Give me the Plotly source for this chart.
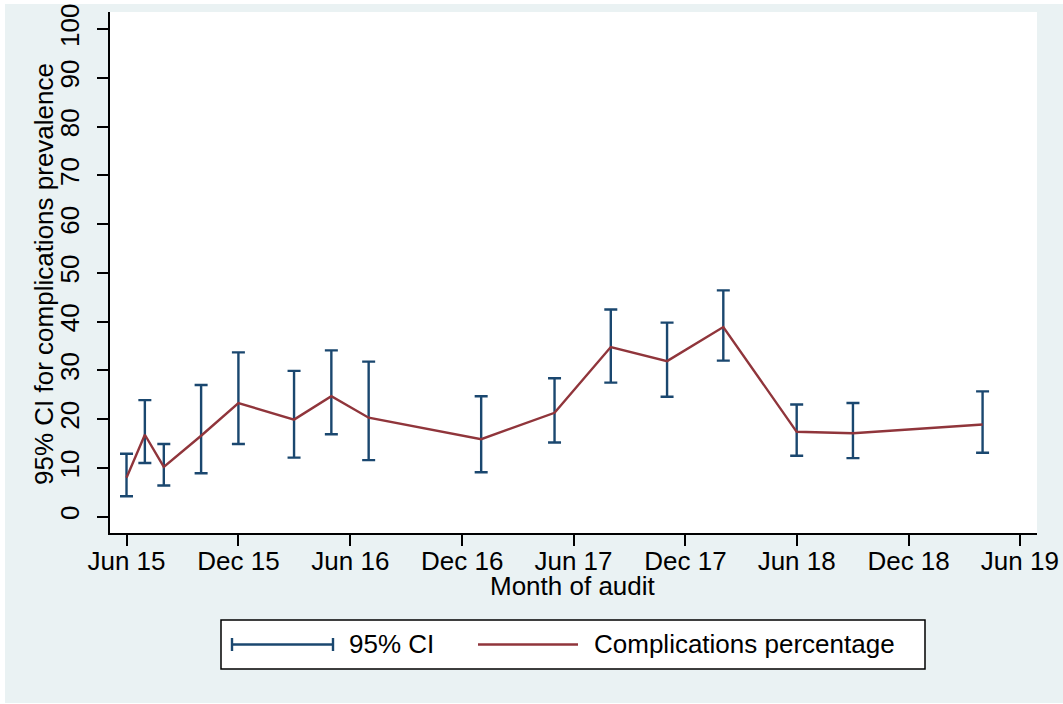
import plotly.graph_objects as go

# ---- data ----
months = ["2015-06-01", "2015-07-01", "2015-08-01", "2015-10-01", "2015-12-01",
          "2016-03-01", "2016-05-01", "2016-07-01", "2017-01-01", "2017-05-01",
          "2017-08-01", "2017-11-01", "2018-02-01", "2018-06-01", "2018-09-01",
          "2019-04-01"]
pct = [8.0, 16.8, 10.2, 16.6, 23.3, 19.9, 24.7, 20.3, 15.9, 21.3,
       34.8, 31.9, 38.9, 17.4, 17.1, 18.9]
ci_low = [4.2, 11.0, 6.4, 8.9, 14.9, 12.1, 16.9, 11.6, 9.1, 15.2,
          27.5, 24.6, 32.0, 12.5, 12.0, 13.1]
ci_high = [12.9, 23.9, 14.9, 27.0, 33.7, 29.9, 34.1, 31.8, 24.7, 28.4,
           42.5, 39.8, 46.4, 23.0, 23.3, 25.7]

xtick_vals = ["2015-06-01", "2015-12-01", "2016-06-01", "2016-12-01", "2017-06-01",
              "2017-12-01", "2018-06-01", "2018-12-01", "2019-06-01"]
xtick_text = ["Jun 15", "Dec 15", "Jun 16", "Dec 16", "Jun 17",
              "Dec 17", "Jun 18", "Dec 18", "Jun 19"]
ytick_vals = [0, 10, 20, 30, 40, 50, 60, 70, 80, 90, 100]

NAVY = "#1A476F"
MAROON = "#90353B"
BG = "#EAF2F3"
FONT = "Liberation Sans, Arial, sans-serif"
FS = 26

err_up = [h - p for h, p in zip(ci_high, pct)]
err_dn = [p - l for p, l in zip(pct, ci_low)]

fig = go.Figure()
fig.add_trace(go.Scatter(
    x=months, y=pct, mode="markers", name="95% CI",
    marker=dict(size=1, opacity=0),
    error_y=dict(type="data", symmetric=False, array=err_up, arrayminus=err_dn,
                 color=NAVY, thickness=2.4, width=6.5),
    showlegend=False, hoverinfo="skip"))
fig.add_trace(go.Scatter(
    x=months, y=pct, mode="lines", name="Complications percentage",
    line=dict(color=MAROON, width=2.4), showlegend=False))

# plot area in pixels: x 110..1037, y 12..533
L, R, T, B = 110, 1037, 12, 533
W, H = R - L, B - T
def px(x):
    return (x - L) / W
def py(y):
    return (B - y) / H

shapes = [
    dict(type="rect", xref="paper", yref="paper", x0=px(5), x1=px(1070),
         y0=py(703), y1=py(4), fillcolor=BG, line=dict(width=0), layer="below"),
    dict(type="rect", xref="paper", yref="paper", x0=0, x1=1, y0=0, y1=1,
         fillcolor="white", line=dict(width=0), layer="below"),
    # legend box
    dict(type="rect", xref="paper", yref="paper", x0=px(221), x1=px(925),
         y0=py(669), y1=py(620), fillcolor="white",
         line=dict(color="black", width=1.5)),
    # CI legend symbol
    dict(type="line", xref="paper", yref="paper", x0=px(232), x1=px(333),
         y0=py(644.5), y1=py(644.5), line=dict(color=NAVY, width=2.4)),
    dict(type="line", xref="paper", yref="paper", x0=px(232), x1=px(232),
         y0=py(638), y1=py(651), line=dict(color=NAVY, width=2.4)),
    dict(type="line", xref="paper", yref="paper", x0=px(333), x1=px(333),
         y0=py(638), y1=py(651), line=dict(color=NAVY, width=2.4)),
    # line legend symbol
    dict(type="line", xref="paper", yref="paper", x0=px(478), x1=px(578),
         y0=py(644.5), y1=py(644.5), line=dict(color=MAROON, width=2.4)),
]
annotations = [
    dict(xref="paper", yref="paper", x=px(347), y=py(644), xanchor="left",
         yanchor="middle", text="95% CI", showarrow=False,
         font=dict(family=FONT, size=FS, color="black")),
    dict(xref="paper", yref="paper", x=px(592), y=py(644), xanchor="left",
         yanchor="middle", text="Complications percentage", showarrow=False,
         font=dict(family=FONT, size=FS, color="black")),
    # axis titles
    dict(xref="paper", yref="paper", x=px(44), y=py(274), xanchor="center",
         yanchor="middle", textangle=-90, showarrow=False,
         text="95% CI for complications prevalence",
         font=dict(family=FONT, size=FS, color="black")),
    dict(xref="paper", yref="paper", x=px(573), y=py(586), xanchor="center",
         yanchor="middle", showarrow=False, text="Month of audit",
         font=dict(family=FONT, size=FS, color="black")),
]

fig.update_layout(
    width=1063, height=704,
    margin=dict(l=L, r=1063 - R, t=T, b=704 - B, pad=0, autoexpand=False),
    paper_bgcolor="white", plot_bgcolor="white",
    font=dict(family=FONT, size=FS, color="black"),
    shapes=shapes, annotations=annotations, showlegend=False,
    xaxis=dict(type="date", range=["2015-05-05", "2019-06-29"],
               tickvals=xtick_vals, ticktext=xtick_text, automargin=False,
               showgrid=False, zeroline=False, showline=True,
               linecolor="black", linewidth=1.5, mirror=False,
               ticks="outside", ticklen=11, tickwidth=1.5, tickcolor="black",
               ticklabelstandoff=-7,
               tickfont=dict(family=FONT, size=FS)),
    yaxis=dict(range=[-3.35, 103.5], tickvals=ytick_vals, automargin=False,
               showgrid=False, zeroline=False, showline=True,
               linecolor="black", linewidth=1.5,
               ticks="outside", ticklen=11, tickwidth=1.5, tickcolor="black",
               tickangle=-90, ticklabelstandoff=8,
               tickfont=dict(family=FONT, size=FS)),
)

fig.write_html("out.html", config={"displayModeBar": False},
               post_script="document.body.style.margin='0';document.body.style.padding='0';")
